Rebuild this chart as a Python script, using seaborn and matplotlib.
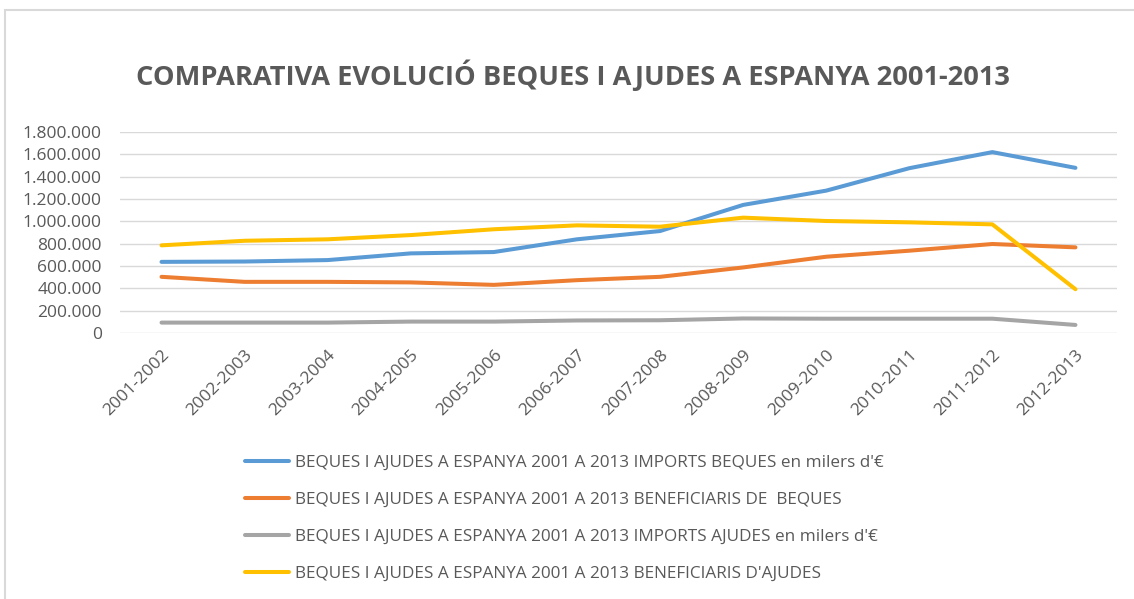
import matplotlib
matplotlib.use("Agg")
import matplotlib.pyplot as plt
import matplotlib.ticker as mticker
import seaborn as sns
import pandas as pd

# dades llegides del gràfic
cursos = ["2001-2002", "2002-2003", "2003-2004", "2004-2005", "2005-2006", "2006-2007",
          "2007-2008", "2008-2009", "2009-2010", "2010-2011", "2011-2012", "2012-2013"]
imports_beques = [637000, 640000, 653000, 713000, 725000, 839000, 913000, 1147000, 1275000, 1476000, 1620000, 1479000]
beneficiaris_beques = [503000, 458000, 458000, 453000, 431000, 473000, 503000, 587000, 683000, 737000, 797000, 767000]
imports_ajudes = [93000, 93000, 93000, 102000, 102000, 112000, 114000, 130000, 128000, 128000, 128000, 72000]
beneficiaris_ajudes = [785000, 826000, 839000, 877000, 929000, 964000, 952000, 1033000, 1003000, 991000, 973000, 392000]

series = [
    "BEQUES I AJUDES A ESPANYA 2001 A 2013 IMPORTS BEQUES en milers d'€",
    "BEQUES I AJUDES A ESPANYA 2001 A 2013 BENEFICIARIS DE  BEQUES",
    "BEQUES I AJUDES A ESPANYA 2001 A 2013 IMPORTS AJUDES en milers d'€",
    "BEQUES I AJUDES A ESPANYA 2001 A 2013 BENEFICIARIS D'AJUDES",
]
colors = ["#5B9BD5", "#ED7D31", "#A5A5A5", "#FFC000"]

df = pd.DataFrame({
    "curs": cursos * 4,
    "valor": imports_beques + beneficiaris_beques + imports_ajudes + beneficiaris_ajudes,
    "serie": [s for s in series for _ in cursos],
})

sns.set_style("white")
plt.rcParams['font.family'] = ['Open Sans', 'DejaVu Sans']
gris = "#595959"

fig = plt.figure(figsize=(11.34, 5.99), dpi=100)
ax = fig.add_axes([0.1058, 0.4441, 0.985 - 0.1058, 0.7796 - 0.4441])

sns.lineplot(data=df, x="curs", y="valor", hue="serie", palette=colors,
             linewidth=2.9, sort=False, ax=ax, legend=True)

ax.set_xlim(-0.5, len(cursos) - 0.5)
ax.set_ylim(0, 1800000)
ax.yaxis.set_major_locator(mticker.MultipleLocator(200000))
ax.yaxis.set_major_formatter(mticker.FuncFormatter(lambda v, p: f"{int(v):,}".replace(",", ".")))
ax.grid(axis="y", color="#D9D9D9", linewidth=1)
ax.set_axisbelow(True)
for s in ax.spines.values():
    s.set_visible(False)
ax.set_xlabel("")
ax.set_ylabel("")
ax.tick_params(axis="y", labelsize=12.5, colors=gris, length=0, pad=13)
ax.tick_params(axis="x", labelsize=12.5, colors=gris, length=0, pad=10)
for lab in ax.get_xticklabels():
    lab.set_rotation(45)
    lab.set_ha("right")
    lab.set_rotation_mode("anchor")

handles, labels = ax.get_legend_handles_labels()
ax.legend(handles, labels, loc="upper left", bbox_to_anchor=(245 / 1134, 1 - 455 / 599),
          bbox_transform=fig.transFigure, frameon=False, fontsize=12.3,
          labelcolor=gris, handlelength=2.6, handletextpad=0.3, labelspacing=1.23,
          borderaxespad=0, borderpad=0)

fig.text(0.505, 1 - 75 / 599, "COMPARATIVA EVOLUCIÓ BEQUES I AJUDES A ESPANYA 2001-2013",
         ha="center", va="center", fontsize=19.6, fontweight="bold", color=gris)

# marc del gràfic
fig.patches.append(plt.Rectangle((5 / 1134, -0.05), 1.2, 1 - 10 / 599 + 0.05,
                                 transform=fig.transFigure, fill=False,
                                 edgecolor="#D9D9D9", linewidth=1.5))

fig.savefig("out.png", dpi=100)
